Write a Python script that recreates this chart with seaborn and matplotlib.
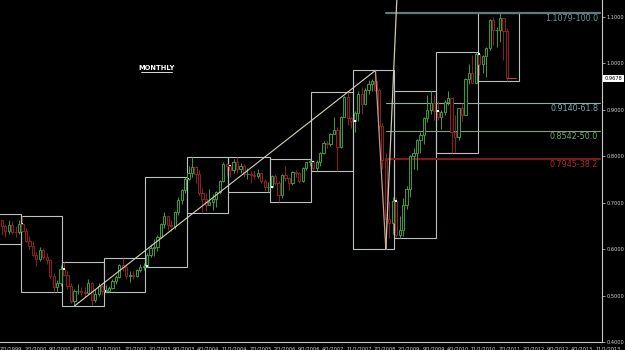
import numpy as np
import pandas as pd
import matplotlib
matplotlib.use("Agg")
import matplotlib.pyplot as plt
import seaborn as sns
from matplotlib.patches import Rectangle

# ---------------- data (AUD/USD monthly) ----------------
start_month = "1999-01"
first_open = 0.6130
close = [
    # 1999
    0.6300, 0.6290, 0.6340, 0.6620, 0.6580, 0.6620, 0.6490, 0.6380, 0.6520, 0.6370, 0.6360, 0.6550,
    # 2000
    0.6390, 0.6180, 0.6060, 0.5870, 0.5780, 0.5990, 0.5820, 0.5760, 0.5420, 0.5180, 0.5260, 0.5580,
    # 2001
    0.5450, 0.5210, 0.4890, 0.5090, 0.5090, 0.5070, 0.5060, 0.5280, 0.4910, 0.5040, 0.5200, 0.5100,
    # 2002
    0.5100, 0.5160, 0.5320, 0.5410, 0.5650, 0.5620, 0.5420, 0.5450, 0.5420, 0.5560, 0.5610, 0.5630,
    # 2003
    0.5870, 0.6030, 0.6050, 0.6270, 0.6540, 0.6710, 0.6530, 0.6500, 0.6800, 0.7060, 0.7270, 0.7520,
    # 2004
    0.7640, 0.7770, 0.7620, 0.7200, 0.7070, 0.6960, 0.7020, 0.7090, 0.7240, 0.7460, 0.7840, 0.7800,
    # 2005
    0.7710, 0.7870, 0.7720, 0.7780, 0.7610, 0.7620, 0.7600, 0.7580, 0.7640, 0.7470, 0.7330, 0.7340,
    # 2006
    0.7580, 0.7430, 0.7160, 0.7590, 0.7540, 0.7430, 0.7660, 0.7640, 0.7460, 0.7740, 0.7880, 0.7890,
    # 2007
    0.7740, 0.7880, 0.8080, 0.8280, 0.8260, 0.8480, 0.8560, 0.8190, 0.8850, 0.9270, 0.8820, 0.8760,
    # 2008
    0.8940, 0.9340, 0.9130, 0.9420, 0.9560, 0.9620, 0.9420, 0.8650, 0.7920, 0.6640, 0.6570, 0.7040,
    # 2009
    0.6310, 0.6420, 0.6960, 0.7290, 0.8010, 0.8060, 0.8360, 0.8450, 0.8820, 0.9000, 0.9150, 0.8970,
    # 2010
    0.8850, 0.8960, 0.9170, 0.9250, 0.8520, 0.8420, 0.9050, 0.8880, 0.9670, 0.9800, 0.9580, 1.0210,
    # 2011
    0.9980, 1.0170, 1.0330, 1.0940, 1.0710, 1.0730, 1.0980, 1.0690, 0.9678,
]
high = [
    0.6420, 0.6400, 0.6440, 0.6700, 0.6760, 0.6680, 0.6620, 0.6540, 0.6620, 0.6600, 0.6500, 0.6620,
    0.6710, 0.6450, 0.6280, 0.6180, 0.5930, 0.6050, 0.6030, 0.5920, 0.5790, 0.5490, 0.5330, 0.5650,
    0.5720, 0.5530, 0.5260, 0.5150, 0.5250, 0.5190, 0.5190, 0.5350, 0.5300, 0.5140, 0.5270, 0.5250,
    0.5220, 0.5210, 0.5350, 0.5440, 0.5680, 0.5815, 0.5690, 0.5520, 0.5520, 0.5580, 0.5670, 0.5700,
    0.5910, 0.6120, 0.6220, 0.6300, 0.6560, 0.6790, 0.6720, 0.6620, 0.6820, 0.7120, 0.7290, 0.7560,
    0.7790, 0.7990, 0.7790, 0.7700, 0.7320, 0.7200, 0.7290, 0.7180, 0.7250, 0.7490, 0.7880, 0.7830,
    0.7800, 0.7950, 0.7990, 0.7860, 0.7840, 0.7740, 0.7680, 0.7710, 0.7730, 0.7650, 0.7500, 0.7440,
    0.7600, 0.7620, 0.7470, 0.7620, 0.7790, 0.7560, 0.7680, 0.7710, 0.7670, 0.7760, 0.7880, 0.7950,
    0.7910, 0.7920, 0.8100, 0.8330, 0.8330, 0.8500, 0.8850, 0.8620, 0.8860, 0.9290, 0.9375, 0.8840,
    0.8980, 0.9400, 0.9500, 0.9480, 0.9640, 0.9660, 0.9849, 0.9470, 0.8720, 0.8070, 0.7030, 0.7120,
    0.7130, 0.6720, 0.7100, 0.7370, 0.8030, 0.8180, 0.8380, 0.8520, 0.8840, 0.9330, 0.9406, 0.9320,
    0.9200, 0.9000, 0.9210, 0.9400, 0.9260, 0.8880, 0.9050, 0.9150, 0.9680, 0.9990, 1.0180, 1.0255,
    1.0250, 1.0190, 1.0350, 1.0950, 1.1010, 1.0790, 1.1079, 1.0980, 1.0770,
]
low = [
    0.6130, 0.6120, 0.6150, 0.6280, 0.6440, 0.6460, 0.6310, 0.6260, 0.6330, 0.6320, 0.6260, 0.6330,
    0.6370, 0.6160, 0.6010, 0.5860, 0.5640, 0.5740, 0.5780, 0.5690, 0.5370, 0.5070, 0.5080, 0.5200,
    0.5450, 0.5140, 0.4840, 0.4775, 0.5030, 0.4990, 0.4960, 0.5040, 0.4800, 0.4860, 0.5000, 0.5010,
    0.5075, 0.5080, 0.5140, 0.5250, 0.5380, 0.5520, 0.5350, 0.5300, 0.5360, 0.5410, 0.5500, 0.5550,
    0.5620, 0.5820, 0.5860, 0.5970, 0.6240, 0.6460, 0.6420, 0.6400, 0.6440, 0.6740, 0.6970, 0.7200,
    0.7480, 0.7550, 0.7430, 0.7170, 0.6785, 0.6830, 0.6950, 0.6850, 0.6910, 0.7180, 0.7450, 0.7600,
    0.7560, 0.7640, 0.7650, 0.7640, 0.7560, 0.7510, 0.7420, 0.7500, 0.7540, 0.7420, 0.7260, 0.7240,
    0.7310, 0.7380, 0.7020, 0.7100, 0.7460, 0.7280, 0.7380, 0.7560, 0.7430, 0.7440, 0.7700, 0.7780,
    0.7710, 0.7690, 0.7800, 0.8040, 0.8170, 0.8220, 0.8480, 0.7677, 0.8170, 0.8840, 0.8680, 0.8600,
    0.8520, 0.8750, 0.8920, 0.9100, 0.9340, 0.9410, 0.9410, 0.8540, 0.7720, 0.6009, 0.6240, 0.6330,
    0.6260, 0.6248, 0.6290, 0.6860, 0.7130, 0.7730, 0.7700, 0.8080, 0.8270, 0.8730, 0.8900, 0.8780,
    0.8780, 0.8580, 0.8880, 0.9100, 0.8067, 0.8090, 0.8350, 0.8770, 0.8880, 0.9550, 0.9650, 0.9630,
    0.9760, 0.9800, 0.9700, 1.0280, 1.0400, 1.0350, 1.0460, 1.0080, 0.9624,
]
current_price = 0.9678

# drawn trend lines (dates of anchor candles, prices)
trend_dates = ["2001-04", "2008-07"]
trend_prices = [0.4775, 0.9849]
drop_dates = ["2008-07", "2008-10"]
drop_prices = [0.9849, 0.6009]
fib_swing_prices = [0.6009, 1.1079]

fib_values = [1.1079, 0.9140, 0.8542, 0.7945]
fib_labels = ["1.1079-100.0", "0.9140-61.8", "0.8542-50.0", "0.7945-38.2"]

ytick_values = [0.4, 0.5, 0.6, 0.7, 0.8, 0.9, 1.0, 1.1]
xtick_dates = ["7/1/1999", "2/1/2000", "9/1/2000", "4/1/2001", "11/1/2001", "7/1/2002",
               "2/1/2003", "9/1/2003", "4/1/2004", "11/1/2004", "7/1/2005", "2/1/2006",
               "9/1/2006", "4/1/2007", "11/1/2007", "7/1/2008", "2/1/2009", "9/1/2009",
               "4/1/2010", "11/1/2010", "7/1/2011", "2/1/2012", "9/1/2012", "4/1/2013",
               "11/1/2013"]

# ---------------- build table ----------------
months = pd.period_range(start_month, periods=len(close), freq="M")
opens = [first_open] + close[:-1]
df = pd.DataFrame({"month": months, "open": opens, "high": high, "low": low, "close": close})
base = pd.Period(start_month, freq="M")
df["m"] = [(p - base).n for p in df["month"]]
df["x"] = df["m"] + 0.5
df["year"] = [p.year for p in df["month"]]
df["up"] = df["close"] >= df["open"]


def mpos(s):
    return (pd.Period(s, freq="M") - base).n


# ---------------- figure ----------------
sns.set_theme(style="dark")
plt.rcParams["font.family"] = ["DejaVu Sans"]
W, H = 625, 350
fig = plt.figure(figsize=(W / 100, H / 100), dpi=100, facecolor="black")
ax_right_px, ax_bottom_px = 602, 342
ax = fig.add_axes([0, (H - ax_bottom_px) / H, ax_right_px / W, ax_bottom_px / H])
ax.set_facecolor("black")

pxm = 3.462
x_left = 6.078
ax.set_xlim(x_left, x_left + ax_right_px / pxm)
ax.set_ylim(0.401, 1.1366)

up_col, dn_col = "#3f9a3f", "#8e2222"

# year boxes
yr = df.groupby("year").agg(hi=("high", "max"), lo=("low", "min"))
for y, r in yr.iterrows():
    m0 = (pd.Period(f"{y}-01", freq="M") - base).n
    ax.add_patch(Rectangle((m0, r.lo), 12, r.hi - r.lo, fill=False,
                           edgecolor="#b9c2c2", lw=0.8, zorder=1))

# fib lines
fib_cols_line = ["#5d7c7c", "#8fb0a2", "#7aa67a", "#7a1a1a"]
fib_cols_text = ["#6a9696", "#78a8ae", "#6caa6c", "#a83232"]
fib_lw = [1.6, 0.8, 0.8, 1.6]
x_fib0 = mpos("2008-10") + 0.5
x_fib1 = x_left + 600 / pxm
for v, lab, cl, ct, lw in zip(fib_values, fib_labels, fib_cols_line, fib_cols_text, fib_lw):
    ax.plot([x_fib0, x_fib1], [v, v], color=cl, lw=lw, zorder=2)
    ax.text(x_left + 598 / pxm, v - 0.002, lab, color=ct, fontsize=5.8,
            ha="right", va="top", zorder=6)

# candles
for _, r in df.iterrows():
    c = up_col if r.up else dn_col
    ax.vlines(r.x, r.low, r.high, color=c, lw=0.7, zorder=3)
    b0, b1 = min(r.open, r.close), max(r.open, r.close)
    ax.add_patch(Rectangle((r.x - 0.32, b0), 0.64, max(b1 - b0, 0.0015),
                           facecolor="#0c0c0c", edgecolor=c, lw=0.7, zorder=4))

# current price marker
last = df.iloc[-1]
ax.plot([last.x, last.x + 2.6], [current_price, current_price], color="#b04040", lw=0.8, zorder=5)

# january open markers
jan = df[[p.month == 1 for p in df["month"]]]
sns.scatterplot(x=jan["x"], y=jan["open"], ax=ax, marker="s", s=1.6, color="#e8fff8",
                edgecolor="none", zorder=7, legend=False)

# trend lines
tl = pd.DataFrame({"x": [mpos(d) + 0.5 for d in trend_dates], "y": trend_prices})
sns.lineplot(data=tl, x="x", y="y", ax=ax, color="#d6d2bc", lw=0.8, zorder=5)
dl = pd.DataFrame({"x": [mpos(d) + 0.5 for d in drop_dates], "y": drop_prices})
sns.lineplot(data=dl, x="x", y="y", ax=ax, color="#c99a84", lw=0.9, zorder=5)
# fib tool diagonal (low to high, steep), extended to the top
x_lo = mpos("2008-10") + 0.5
x_hi = x_lo + 3.0
slope = (x_hi - x_lo) / (fib_swing_prices[1] - fib_swing_prices[0])
x_top = x_lo + slope * (1.1366 - fib_swing_prices[0])
fl = pd.DataFrame({"x": [x_lo, x_top], "y": [fib_swing_prices[0], 1.1366]})
sns.lineplot(data=fl, x="x", y="y", ax=ax, color="#cfc8a8", lw=0.9, zorder=5)

# MONTHLY label
ax.text(x_left + 156 / pxm, 1.1366 - 68 / 465, "MONTHLY", color="white", fontsize=4.8,
        fontweight="bold", ha="center", va="center", zorder=8)
ax.plot([x_left + 141 / pxm, x_left + 172 / pxm], [1.1366 - 72 / 465] * 2, color="white", lw=0.6)

# axes styling
for s in ["top", "left"]:
    ax.spines[s].set_visible(False)
for s in ["bottom", "right"]:
    ax.spines[s].set_visible(True)
    ax.spines[s].set_color("#c8c8c8")
    ax.spines[s].set_linewidth(0.8)
ax.grid(False)
ax.yaxis.tick_right()
ax.set_yticks(ytick_values)
ax.set_yticklabels([f"{v:.4f}" for v in ytick_values])
ax.tick_params(axis="y", colors="#d8d8d8", labelsize=3.6, length=2, width=0.5, pad=1.5,
               labelcolor="#d8d8d8")
xt = [mpos(pd.Timestamp(pd.to_datetime(d)).strftime("%Y-%m")) for d in xtick_dates]
ax.set_xticks(xt)
ax.set_xticklabels(xtick_dates, ha="left")
ax.tick_params(axis="x", colors="#d8d8d8", labelsize=3.6, length=2, width=0.5, pad=1,
               labelcolor="#d8d8d8")
ax.set_xlabel("")
ax.set_ylabel("")

# current price box on right axis
ypx = 17 + (1.1 - current_price) * 465
fig.text(613.5 / W, 1 - ypx / H, f"{current_price:.4f}", fontsize=3.6, color="black",
         ha="center", va="center",
         bbox=dict(boxstyle="square,pad=0.25", facecolor="white", edgecolor="none"))

fig.savefig("out.png", dpi=100, facecolor="black")
